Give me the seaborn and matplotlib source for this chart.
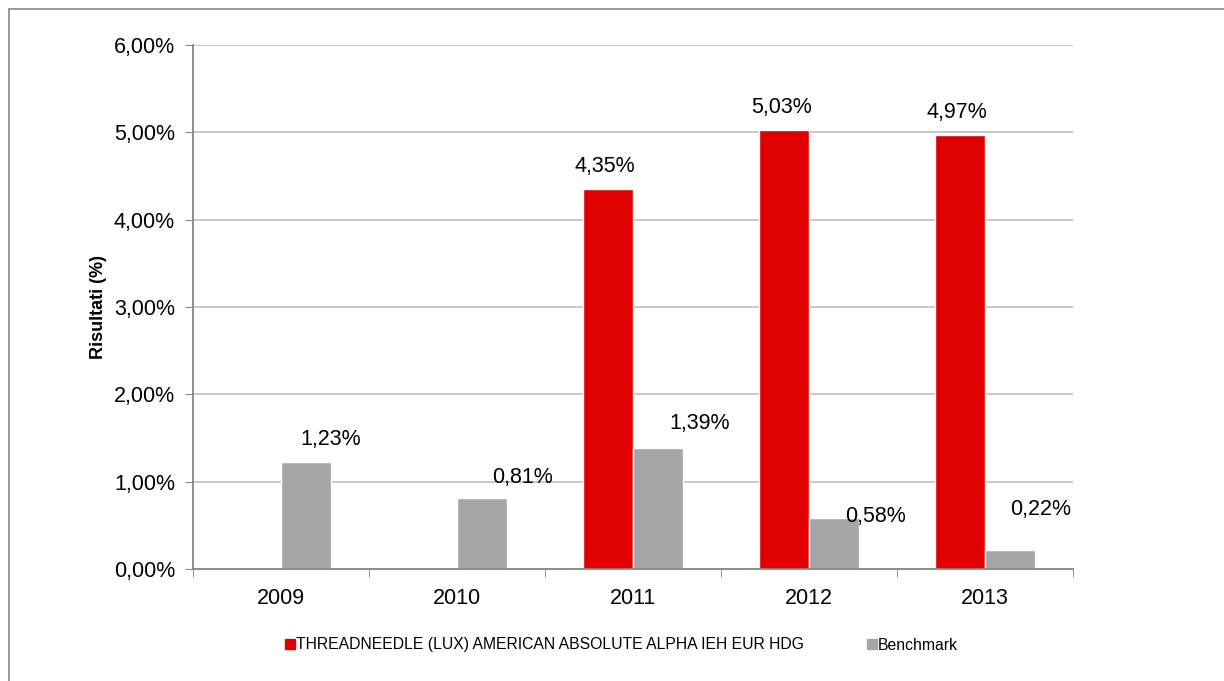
import pandas as pd
import matplotlib.pyplot as plt
import seaborn as sns
from matplotlib.ticker import FuncFormatter, FixedLocator
from matplotlib.lines import Line2D

# Dati
years = ['2009', '2010', '2011', '2012', '2013']
fund = [None, None, 4.35, 5.03, 4.97]
benchmark = [1.23, 0.81, 1.39, 0.58, 0.22]
fund_name = 'THREADNEEDLE (LUX) AMERICAN ABSOLUTE ALPHA IEH EUR HDG'
bench_name = 'Benchmark'

red = '#E00000'
grey = '#A6A6A6'

df = pd.DataFrame({'Anno': years * 2,
                   'Valore': fund + benchmark,
                   'Serie': [fund_name] * 5 + [bench_name] * 5})

sns.set_style('white')
plt.rcParams['font.family'] = ['Liberation Sans', 'DejaVu Sans']
plt.rcParams['text.color'] = 'black'
plt.rcParams['axes.labelcolor'] = 'black'
plt.rcParams['xtick.color'] = 'black'
plt.rcParams['ytick.color'] = 'black'

fig = plt.figure(figsize=(12.24, 6.81), dpi=100)
ax = fig.add_axes([0.1577, 0.1645, 0.7189, 0.7694])

sns.barplot(data=df, x='Anno', y='Valore', hue='Serie', palette=[red, grey],
            width=0.57, saturation=1, ax=ax, legend=False)

def pct(v, pos=None):
    return ('%.2f%%' % v).replace('.', ',')

ax.set_ylim(0, 6)
ax.set_xlim(-0.5, 4.5)
ax.yaxis.set_major_formatter(FuncFormatter(pct))
ax.set_yticks([0, 1, 2, 3, 4, 5, 6])
ax.yaxis.grid(True, color='#BFBFBF', linewidth=1.2)
ax.set_axisbelow(True)
ax.tick_params(axis='y', labelsize=15.5, length=6, color='#868686', labelcolor='black',
               direction='out', left=True, pad=7)
ax.tick_params(axis='x', which='major', labelsize=15.5, length=0, labelcolor='black', pad=14)
ax.xaxis.set_minor_locator(FixedLocator([-0.5, 0.5, 1.5, 2.5, 3.5, 4.5]))
ax.tick_params(axis='x', which='minor', length=6, color='#868686', direction='out', bottom=True)
for s in ['top', 'right']:
    ax.spines[s].set_visible(False)
for s in ['left', 'bottom']:
    ax.spines[s].set_color('#868686')
    ax.spines[s].set_linewidth(1.3)
ax.set_xlabel('')
ax.set_ylabel('Risultati (%)', fontsize=13, fontweight='bold', labelpad=5)

# Etichette dati (Excel le sposta a mano, quindi offset per etichetta)
fund_vals = [v for v in fund if v is not None]
for bar, v in zip(ax.containers[0], fund_vals):
    ax.annotate(pct(v), (bar.get_x() + bar.get_width() / 2, bar.get_height()),
                xytext=(-2, 16), textcoords='offset points',
                ha='center', va='center', fontsize=15.5)
bench_offsets = [(18, 16), (29, 15), (30, 17), (30, 1.5), (22, 29)]
for bar, v, off in zip(ax.containers[1], benchmark, bench_offsets):
    ax.annotate(pct(v), (bar.get_x() + bar.get_width() / 2, bar.get_height()),
                xytext=off, textcoords='offset points',
                ha='center', va='center', fontsize=15.5)

# Legenda
handles = [Line2D([], [], marker='s', linestyle='', color=red, markersize=7),
           Line2D([], [], marker='s', linestyle='', color=grey, markersize=7)]
fig.legend(handles, [fund_name, bench_name], loc='center',
           bbox_to_anchor=(0.508, 1 - 645 / 681), ncol=2, frameon=False,
           fontsize=11.3, handlelength=0.6, handletextpad=0.1, columnspacing=4.0)

# Bordo
fig.add_artist(Line2D([9 / 1224, 1], [1 - 9 / 681, 1 - 9 / 681], color='#868686', linewidth=1.2))
fig.add_artist(Line2D([9 / 1224, 9 / 1224], [0, 1 - 9 / 681], color='#868686', linewidth=1.2))

fig.savefig('out.png', dpi=100)
